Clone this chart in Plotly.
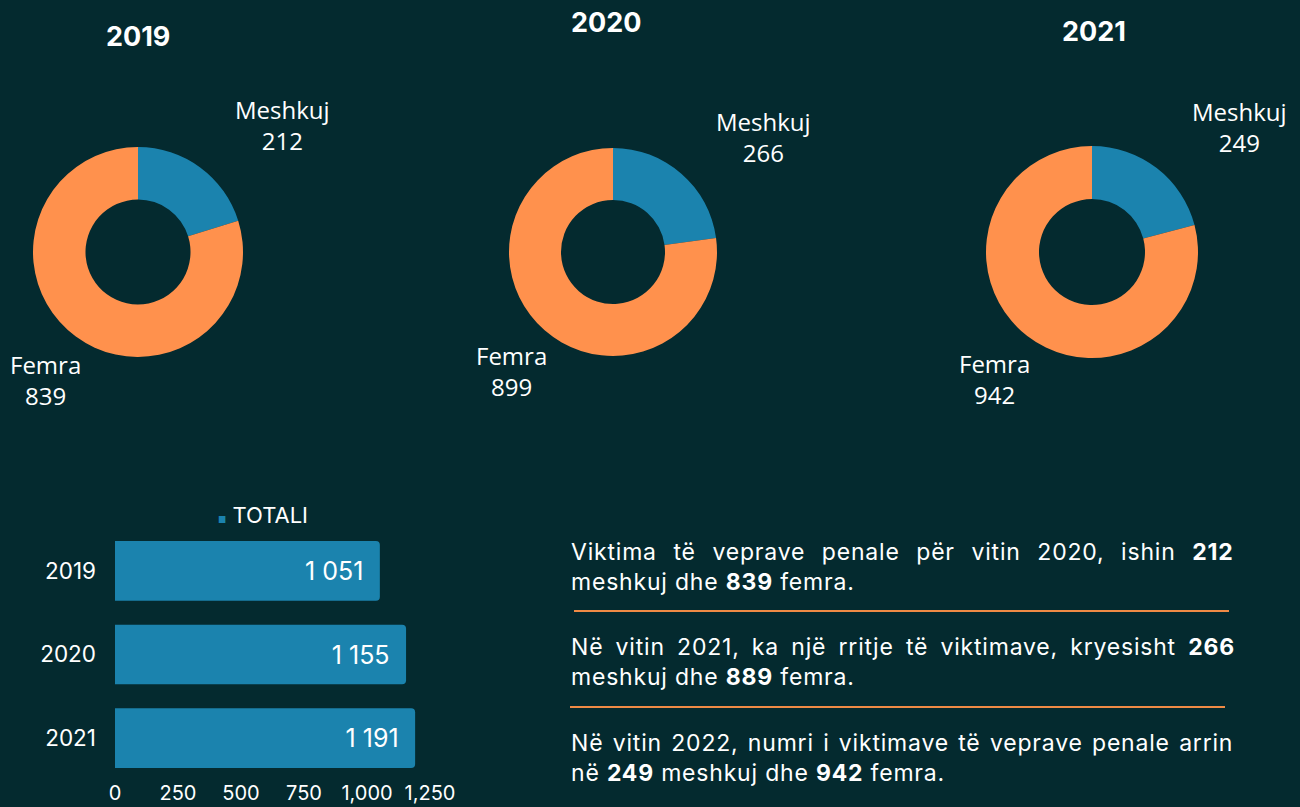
import plotly.graph_objects as go

# ---------------- data ----------------
years = ["2019", "2020", "2021"]
genders = ["Meshkuj", "Femra"]
meshkuj = [212, 266, 249]
femra = [839, 899, 942]
totali = [1051, 1155, 1191]
x_ticks = [0, 250, 500, 750, 1000, 1250]

para_lines = [
    ["Viktima të veprave penale për vitin 2020, ishin <b>212</b>",
     "meshkuj dhe <b>839</b> femra."],
    ["Në vitin 2021, ka një rritje të viktimave, kryesisht <b>266</b>",
     "meshkuj dhe <b>889</b> femra."],
    ["Në vitin 2022, numri i viktimave të veprave penale arrin",
     "në <b>249</b> meshkuj dhe <b>942</b> femra."],
]
# extra word spacing (px) used to justify the first line of each paragraph
para_wordspacing = [[9.4, 0], [5.0, 0], [2.1, 0]]

# ---------------- style ----------------
W, H = 1300, 807
BG = "#042a2f"
BLUE = "#1b83ae"
ORANGE = "#ff914d"
LINE_ORANGE = "#f08a45"
FONT = "Inter"
LABEL_FONT = "Open Sans"


def px(x):
    return x / W


def py(y):
    return 1 - y / H


fig = go.Figure()

# donut geometry: (center x, center y, radius) in pixels
donuts = [(138, 252, 105), (613, 252, 104), (1092, 252, 106)]
titles_pos = [(138, 36), (606, 22), (1094, 32)]
mesh_lbl_pos = [(282, 125), (763, 137), (1239, 127)]
fem_lbl_pos = [(45, 380), (511, 371), (995, 379)]

annotations = []
for i, yr in enumerate(years):
    cx, cy, r = donuts[i]
    fig.add_trace(go.Pie(
        labels=genders,
        values=[meshkuj[i], femra[i]],
        hole=0.5,
        sort=False,
        direction="clockwise",
        rotation=0,
        marker=dict(colors=[BLUE, ORANGE], line=dict(width=0)),
        textinfo="none",
        hoverinfo="label+value",
        showlegend=False,
        domain=dict(x=[px(cx - r), px(cx + r)], y=[py(cy + r), py(cy - r)]),
    ))
    tx, ty = titles_pos[i]
    annotations.append(dict(
        x=px(tx), y=py(ty), xref="paper", yref="paper",
        text=f"<b>{yr}</b>", showarrow=False,
        font=dict(family=FONT, size=27, color="white"),
        xanchor="center", yanchor="middle"))
    mx, my = mesh_lbl_pos[i]
    annotations.append(dict(
        x=px(mx), y=py(my), xref="paper", yref="paper",
        text=f"{genders[0]}<br>{meshkuj[i]}", showarrow=False,
        font=dict(family=LABEL_FONT, size=24, color="white"),
        xanchor="center", yanchor="middle", align="center"))
    fx, fy = fem_lbl_pos[i]
    annotations.append(dict(
        x=px(fx), y=py(fy), xref="paper", yref="paper",
        text=f"{genders[1]}<br>{femra[i]}", showarrow=False,
        font=dict(family=LABEL_FONT, size=24, color="white"),
        xanchor="center", yanchor="middle", align="center"))

# ---------------- bar chart ----------------
bar_text = [f"{v:,}".replace(",", " ") + "\u2002" for v in totali]
fig.add_trace(go.Bar(
    x=totali, y=years, orientation="h",
    marker=dict(color=BLUE, line=dict(width=0)),
    text=bar_text, textposition="inside", insidetextanchor="end",
    textfont=dict(family=FONT, size=25, color="white"),
    name="TOTALI", showlegend=False,
    xaxis="x", yaxis="y", cliponaxis=False,
))

annotations.append(dict(
    x=px(263), y=py(515), xref="paper", yref="paper",
    text=f"<span style='color:{BLUE};font-size:9px'>■</span> TOTALI",
    showarrow=False, font=dict(family=FONT, size=22, color="white"),
    xanchor="center", yanchor="middle"))

# ---------------- paragraphs ----------------
para_y = [(552, 582), (647, 677), (743, 773)]
for lines, ys, wss in zip(para_lines, para_y, para_wordspacing):
    for txt, yy, ws in zip(lines, ys, wss):
        annotations.append(dict(
            x=px(569), y=py(yy), xref="paper", yref="paper",
            text=f"<span style='letter-spacing:0.8px;word-spacing:{ws}px'>{txt}</span>",
            showarrow=False,
            font=dict(family=FONT, size=23, color="white"),
            xanchor="left", yanchor="middle", align="left"))

shapes = [
    dict(type="line", xref="paper", yref="paper",
         x0=px(574), x1=px(1229), y0=py(611), y1=py(611),
         line=dict(color=LINE_ORANGE, width=2)),
    dict(type="line", xref="paper", yref="paper",
         x0=px(570), x1=px(1225), y0=py(707), y1=py(707),
         line=dict(color=LINE_ORANGE, width=2)),
]

fig.update_layout(
    width=W, height=H, autosize=False,
    margin=dict(l=0, r=0, t=0, b=0, pad=0, autoexpand=False),
    paper_bgcolor=BG, plot_bgcolor=BG,
    font=dict(family=FONT, color="white"),
    annotations=annotations,
    shapes=shapes,
    showlegend=False,
    bargap=0.286,
    barcornerradius=4,
    xaxis=dict(
        domain=[px(115), px(430)],
        range=[0, 1250],
        tickvals=x_ticks,
        tickformat=",",
        showgrid=False, zeroline=False, showline=False,
        tickfont=dict(family=FONT, size=20, color="white"),
        ticks="", ticklabelstandoff=-1,
        automargin=False, fixedrange=True,
    ),
    yaxis=dict(
        domain=[py(780), py(529)],
        autorange="reversed",
        showgrid=False, zeroline=False, showline=False,
        tickfont=dict(family=FONT, size=22.5, color="white"),
        ticks="", ticklabelstandoff=18,
        automargin=False, fixedrange=True,
    ),
)

fig.write_html(
    "out.html",
    config={"displayModeBar": False, "responsive": False},
    post_script="document.body.style.margin='0';document.body.style.overflow='hidden';",
)
